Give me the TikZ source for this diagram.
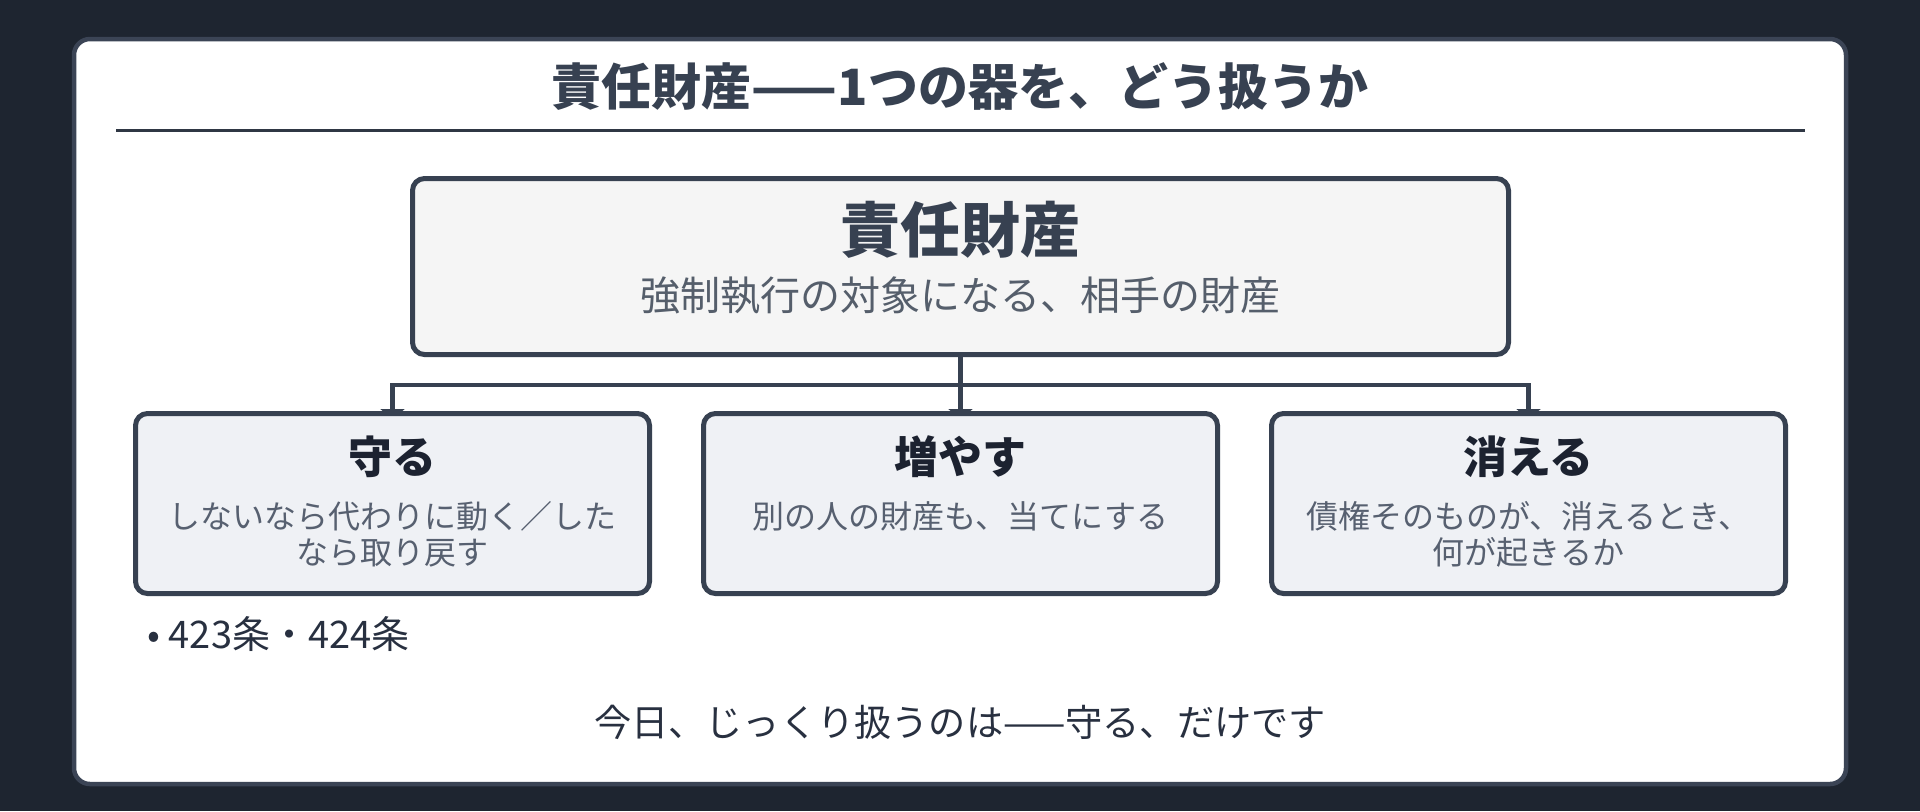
\documentclass[tikz,border=0pt]{standalone}
\usepackage{fontspec}
\setmainfont{Noto Sans CJK JP}
\usetikzlibrary{positioning,arrows.meta,backgrounds}

\definecolor{bgdark}{HTML}{1E2530}
\definecolor{panelline}{HTML}{3B4455}
\definecolor{ink}{HTML}{374151}
\definecolor{ruleink}{HTML}{2F3744}
\definecolor{topfill}{HTML}{F5F5F5}
\definecolor{subfill}{HTML}{EFF1F5}
\definecolor{headink}{HTML}{1C2230}
\definecolor{descink}{HTML}{576070}
\definecolor{noteink}{HTML}{283040}

\begin{document}
\begin{tikzpicture}[
    x=0.5pt, y=-0.5pt,
    node distance=27pt and 24.5pt,
   panel/.style = {draw=panelline, line width=2.25pt, fill=white,
        rounded corners=8pt},
  bigbox/.style = {draw=ink, line width=2.5pt, fill=topfill,
        rounded corners=6pt, inner sep=0pt,
        minimum width=548pt, minimum height=88pt},
  subbox/.style = {draw=ink, line width=2.5pt, fill=subfill,
        rounded corners=6pt, inner sep=0pt,
        minimum width=257pt, minimum height=90pt},
headline/.style = {font=\fontsize{25pt}{30pt}\selectfont\bfseries,
        text=ink, inner sep=0pt},
 boxhead/.style = {font=\fontsize{30pt}{36pt}\selectfont\bfseries,
        text=ink, inner sep=0pt},
  boxsub/.style = {font=\fontsize{20pt}{24pt}\selectfont,
        text=ink!85!white, inner sep=0pt},
 subhead/.style = {font=\fontsize{22pt}{26pt}\selectfont\bfseries,
        text=headink, inner sep=0pt},
 subdesc/.style = {font=\fontsize{16pt}{18pt}\selectfont,
        text=descink, align=center, inner sep=0pt, anchor=north},
    note/.style = {font=\fontsize{19pt}{22pt}\selectfont,
        text=noteink, inner sep=0pt, anchor=west},
 closing/.style = {font=\fontsize{18.6pt}{23pt}\selectfont,
        text=noteink, inner sep=0pt},
    link/.style = {draw=ink, line width=2.25pt},
    rule/.style = {draw=ruleink, line width=1.5pt}
                    ]
% dark page and the white card
\begin{scope}[on background layer]
\fill[bgdark] (0,0) rectangle (1920,811);
\draw[panel] (74,39) rectangle (1846,784);
\end{scope}
\useasboundingbox (0,0) rectangle (1920,811);
% the title
\node (title) [headline] at (960,87) {責任財産——1つの器を、どう扱うか};
\draw[rule] (116,130) -- (1805,130);
% the box at the top
\node (top) [bigbox] at (960.5,266.5) {};
\node (topname) [boxhead] at ([yshift=-27pt]top.north) {責任財産};
\node (topsub)  [boxsub]  at ([yshift=-60pt]top.north)
                {強制執行の対象になる、相手の財産};
% the three boxes below
\node (grow)  [subbox, below=of top]   {};
\node (keep)  [subbox, left=of grow]   {};
\node (lapse) [subbox, right=of grow]  {};
\node (keephead)  [subhead] at ([yshift=-23pt]keep.north)  {守る};
\node (growhead)  [subhead] at ([yshift=-23pt]grow.north)  {増やす};
\node (lapsehead) [subhead] at ([yshift=-23pt]lapse.north) {消える};
\node (keepdesc)  [subdesc] at ([yshift=-45pt]keep.north)
                {しないなら代わりに動く／した\\なら取り戻す};
\node (growdesc)  [subdesc] at ([yshift=-45pt]grow.north)
                {別の人の財産も、当てにする};
\node (lapsedesc) [subdesc] at ([yshift=-45pt]lapse.north)
                {債権そのものが、消えるとき、\\何が起きるか};
% texts under the boxes
\node (articles) [note] at ([xshift=7pt,yshift=-19pt]keep.south west)
                {• 423条・424条};
\node (today) [closing] at (960,722) {今日、じっくり扱うのは——守る、だけです};
% the tree lines
\begin{scope}[on background layer]
\coordinate (fork) at ([yshift=-14pt]top.south);
\draw[link] (top.south) -- (fork);
\foreach \n in {keep,grow,lapse}
    \draw[link,-{Triangle[length=5pt,width=12pt]},shorten >=-4pt]
        (fork) -| (\n.north);
\end{scope}
\end{tikzpicture}
\end{document}
